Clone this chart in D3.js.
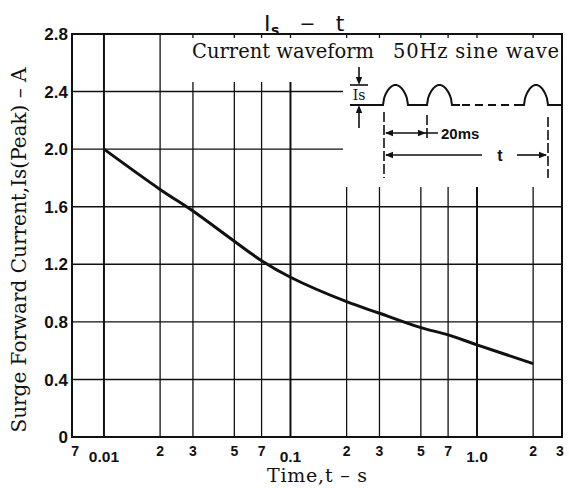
<!DOCTYPE html>
<html><head><meta charset="utf-8">
<script src="https://cdn.jsdelivr.net/npm/d3@7"></script>
<style>
html,body{margin:0;padding:0;background:#fff;}
svg{display:block;}
</style></head>
<body>
<svg id="c" width="569" height="488"></svg>
<script>
// ---- data ----
const times   = [0.01, 0.02, 0.03, 0.05, 0.07, 0.1, 0.2, 0.3, 0.5, 0.7, 1.0, 2.0];
const current = [2.0, 1.72, 1.57, 1.36, 1.225, 1.11, 0.94, 0.86, 0.76, 0.71, 0.64, 0.51];
const yTickValues = [0, 0.4, 0.8, 1.2, 1.6, 2.0, 2.4, 2.8];
const yTickLabels = ["0", "0.4", "0.8", "1.2", "1.6", "2.0", "2.4", "2.8"];
const xMinorValues = [0.007, 0.02, 0.03, 0.05, 0.07, 0.2, 0.3, 0.5, 0.7, 2, 3];
const xMinorLabels = ["7", "2", "3", "5", "7", "2", "3", "5", "7", "2", "3"];
const xMajorValues = [0.01, 0.1, 1.0];
const xMajorLabels = ["0.01", "0.1", "1.0"];
const gridFull = [0.01, 0.02];
const gridMid = [0.03, 0.05, 0.07, 0.1];
const gridLow = [0.2, 0.3, 0.5, 0.7, 1.0, 2.0];
const hGridFull = [0.4, 0.8, 1.2, 1.6];
const hGridShort = [2.0, 2.4];

// ---- layout ----
const L = 72, R = 562, T = 34, B = 437;
const ink = "#111";
const sans = "Liberation Sans, Arial, sans-serif";
const serif = "DejaVu Serif, serif";
const svg = d3.select("#c");
const x = d3.scaleLog().domain([0.00674, 2.856]).range([L, R]);
const y = d3.scaleLinear().domain([0, 2.8]).range([B, T]);

// horizontal grid
svg.append("g").selectAll("line").data(hGridFull).join("line")
  .attr("x1", L).attr("x2", R).attr("y1", d => y(d)).attr("y2", d => y(d))
  .attr("stroke", ink).attr("stroke-width", 1.4);
svg.append("g").selectAll("line").data(hGridShort).join("line")
  .attr("x1", L).attr("x2", 343).attr("y1", d => y(d)).attr("y2", d => y(d))
  .attr("stroke", ink).attr("stroke-width", 1.4);

// vertical grid
const major = v => [0.01, 0.1, 1.0].includes(v);
function vgrid(vals, yTop) {
  svg.append("g").selectAll("line").data(vals).join("line")
    .attr("x1", d => x(d)).attr("x2", d => x(d)).attr("y1", yTop).attr("y2", B)
    .attr("stroke", ink).attr("stroke-width", d => major(d) ? 2 : 1.3);
}
vgrid(gridFull, T);
vgrid(gridMid, 82);
vgrid(gridLow, 187);
svg.append("g").selectAll("line").data(gridMid.concat(gridLow)).join("line")
  .attr("x1", d => x(d)).attr("x2", d => x(d)).attr("y1", T).attr("y2", T + 4)
  .attr("stroke", ink).attr("stroke-width", 1.3);

// frame
svg.append("rect").attr("x", L).attr("y", T).attr("width", R - L).attr("height", B - T)
  .attr("fill", "none").attr("stroke", ink).attr("stroke-width", 2);

// curve
const pts = times.map((t, i) => [t, current[i]]);
svg.append("path").datum(pts)
  .attr("d", d3.line().x(d => x(d[0])).y(d => y(d[1])).curve(d3.curveCatmullRom.alpha(0.5)))
  .attr("fill", "none").attr("stroke", ink).attr("stroke-width", 3);

// y tick labels
svg.append("g").selectAll("text").data(yTickValues).join("text")
  .attr("x", 68).attr("y", d => y(d)).attr("dy", "0.36em")
  .attr("text-anchor", "end")
  .attr("font-family", sans).attr("font-weight", "bold")
  .attr("font-size", 17).attr("fill", ink)
  .text((d, i) => yTickLabels[i]);

// x tick labels
svg.append("g").selectAll("text").data(xMinorValues).join("text")
  .attr("x", d => Math.max(74, Math.min(560, x(d)))).attr("y", 456)
  .attr("text-anchor", "middle")
  .attr("font-family", sans).attr("font-weight", "bold")
  .attr("font-size", 14).attr("fill", ink)
  .text((d, i) => xMinorLabels[i]);
svg.append("g").selectAll("text").data(xMajorValues).join("text")
  .attr("x", d => x(d)).attr("y", 462)
  .attr("text-anchor", "middle")
  .attr("font-family", sans).attr("font-weight", "bold")
  .attr("font-size", 15.5).attr("fill", ink)
  .text((d, i) => xMajorLabels[i]);

// axis titles
svg.append("text").attr("x", 267).attr("y", 482).attr("font-family", serif).attr("font-size", 19)
  .attr("textLength", 100).attr("lengthAdjust", "spacing").attr("fill", ink)
  .text("Time,t \u2013 s");
svg.append("text").attr("transform", "translate(26,250) rotate(-90)")
  .attr("text-anchor", "middle")
  .attr("font-family", serif).attr("font-size", 20).attr("fill", ink)
  .text("Surge Forward Current,Is(Peak) \u2013 A");

// chart title: Is - t
const tg = svg.append("g").attr("font-family", "DejaVu Sans, sans-serif").attr("fill", ink);
tg.append("text").attr("x", 264).attr("y", 31).attr("font-size", 22).text("I");
tg.append("text").attr("x", 271).attr("y", 35).attr("font-size", 14).attr("font-weight", "bold").text("s");
tg.append("text").attr("x", 307.5).attr("y", 30).attr("font-size", 19).attr("text-anchor", "middle").text("\u2212");
tg.append("text").attr("x", 340).attr("y", 31).attr("font-size", 22).attr("text-anchor", "middle").text("t");

// ---- inset: current waveform ----
const ig = svg.append("g").attr("fill", "none").attr("stroke", ink);
svg.append("text").attr("x", 192).attr("y", 58).attr("font-family", serif).attr("font-size", 19.5)
  .attr("textLength", 182).attr("lengthAdjust", "spacing")
  .attr("fill", ink).text("Current waveform");
svg.append("text").attr("x", 393).attr("y", 58).attr("font-family", serif).attr("font-size", 19.5)
  .attr("textLength", 166).attr("lengthAdjust", "spacing")
  .attr("fill", ink).text("50Hz sine wave");

const waveBase = 105, waveTop = 85;
function hump(x0, w) {
  const p = [];
  for (let i = 0; i <= 24; i++) {
    const s = Math.sin(Math.PI * i / 24);
    p.push([x0 + w * i / 24, waveBase - (waveBase - waveTop) * Math.pow(s, 0.55)]);
  }
  return p;
}
const lineGen = d3.line();
let wave = [[368, waveBase], [383, waveBase]].concat(hump(383, 25), [[427, waveBase]], hump(427, 25), [[460, waveBase]]);
ig.append("path").attr("d", lineGen(wave)).attr("stroke-width", 2);
ig.append("line").attr("x1", 462).attr("x2", 522).attr("y1", waveBase).attr("y2", waveBase)
  .attr("stroke-width", 2).attr("stroke-dasharray", "8,5");
let wave2 = [[520, waveBase]].concat(hump(524, 24), [[561, waveBase]]);
ig.append("path").attr("d", lineGen(wave2)).attr("stroke-width", 2);

function arrowHead(xt, yt, dir) {
  const l = 8, h = 3.2;
  let p;
  if (dir === 'down') p = [[xt, yt], [xt - h, yt - l], [xt + h, yt - l]];
  if (dir === 'up') p = [[xt, yt], [xt - h, yt + l], [xt + h, yt + l]];
  if (dir === 'left') p = [[xt, yt], [xt + l, yt - h], [xt + l, yt + h]];
  if (dir === 'right') p = [[xt, yt], [xt - l, yt - h], [xt - l, yt + h]];
  svg.append("path").attr("d", d3.line()(p) + "Z").attr("fill", ink);
}
// Is marker
ig.append("line").attr("x1", 359).attr("x2", 359).attr("y1", 67).attr("y2", 80).attr("stroke-width", 1.6);
arrowHead(359, 85, 'down');
ig.append("line").attr("x1", 350).attr("x2", 368).attr("y1", 85).attr("y2", 85).attr("stroke-width", 1.6);
ig.append("line").attr("x1", 350).attr("x2", 368).attr("y1", waveBase).attr("y2", waveBase).attr("stroke-width", 2);
arrowHead(359, waveBase, 'up');
ig.append("line").attr("x1", 359).attr("x2", 359).attr("y1", waveBase + 6).attr("y2", 128).attr("stroke-width", 1.6);
svg.append("text").attr("x", 359).attr("y", 100).attr("text-anchor", "middle")
  .attr("font-family", serif).attr("font-size", 14).attr("fill", ink).text("Is");

// dimension lines
[[384, 112, 178], [427, 115, 140], [548, 117, 178]].forEach(d => {
  ig.append("line").attr("x1", d[0]).attr("x2", d[0]).attr("y1", d[1]).attr("y2", d[2])
    .attr("stroke-width", 1.6).attr("stroke-dasharray", "10,3");
});
ig.append("line").attr("x1", 386).attr("x2", 438).attr("y1", 133).attr("y2", 133).attr("stroke-width", 1.6);
arrowHead(385, 133, 'left');
arrowHead(426, 133, 'right');
svg.append("text").attr("x", 441).attr("y", 138.5).attr("font-family", sans)
  .attr("font-weight", "bold").attr("font-size", 15).attr("fill", ink).text("20ms");
ig.append("line").attr("x1", 386).attr("x2", 482).attr("y1", 155).attr("y2", 155).attr("stroke-width", 1.6);
arrowHead(385, 155, 'left');
ig.append("line").attr("x1", 517).attr("x2", 546).attr("y1", 155).attr("y2", 155).attr("stroke-width", 1.6);
arrowHead(547, 155, 'right');
svg.append("text").attr("x", 500).attr("y", 160.5).attr("text-anchor", "middle")
  .attr("font-family", sans).attr("font-weight", "bold").attr("font-size", 16).attr("fill", ink).text("t");
</script>
</body></html>
